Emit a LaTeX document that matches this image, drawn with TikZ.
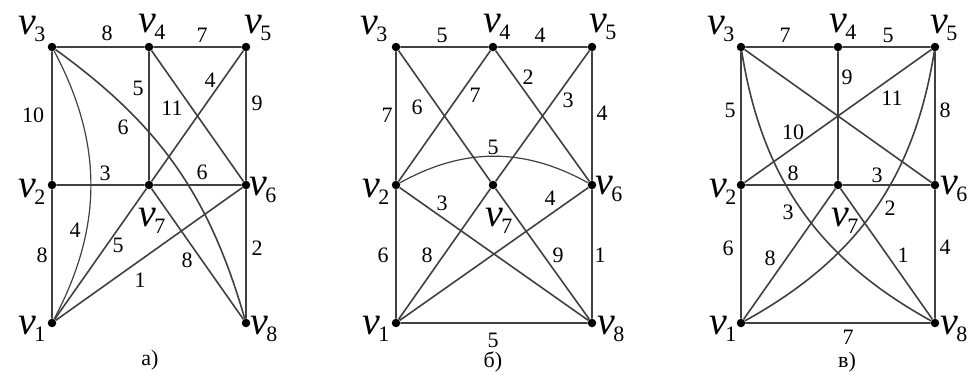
\documentclass[tikz,border=0pt]{standalone}
\usepackage{fontspec}
\setmainfont{Liberation Serif}
\newfontfamily\vfont{Liberation Serif}
\newcommand\vlab[1]{{\vfont\fontsize{40}{40}\selectfont\itshape v}\kern-2pt\raisebox{-7pt}{\vfont\fontsize{22}{22}\selectfont #1}}
\begin{document}
\begin{tikzpicture}[x=1pt,y=1pt,
  dot/.style={circle,fill=black,inner sep=0pt,minimum size=8.5pt},
  edge/.style={draw=black!75,line width=1.6pt},
  lbl/.style={font=\vfont\fontsize{22}{22}\selectfont,inner sep=0pt},
  vtx/.style={inner sep=0pt}]
\useasboundingbox (0,0) rectangle (978,-389);
% ---------- graph a ----------
\node[dot] (a1) at (52,-323) {};
\node[dot] (a2) at (52,-185) {};
\node[dot] (a3) at (52,-47) {};
\node[dot] (a4) at (149,-47) {};
\node[dot] (a5) at (246,-47) {};
\node[dot] (a6) at (246,-185) {};
\node[dot] (a7) at (149,-185) {};
\node[dot] (a8) at (246,-323) {};
\draw[edge] (a3)--(a4) (a4)--(a5) (a3)--(a2) (a2)--(a1) (a5)--(a6) (a6)--(a8)
  (a4)--(a7) (a2)--(a7) (a7)--(a6) (a4)--(a6) (a5)--(a7) (a7)--(a1) (a7)--(a8) (a6)--(a1);
\draw[edge,line width=1.2pt] (a3) to[bend left=28] (a1);
\draw[edge] (a3) to[bend left=19] (a8);
\node[vtx] (la3) at (32,-29) {\vlab{3}};
\node[vtx] (la4) at (152,-27) {\vlab{4}};
\node[vtx] (la5) at (258,-28) {\vlab{5}};
\node[vtx] (la2) at (32,-192) {\vlab{2}};
\node[vtx] (la6) at (263,-190) {\vlab{6}};
\node[vtx] (la7) at (152,-221) {\vlab{7}};
\node[vtx] (la1) at (32,-329) {\vlab{1}};
\node[vtx] (la8) at (264,-329) {\vlab{8}};
\node[lbl] (ea1) at (107,-33) {8};
\node[lbl] (ea2) at (202,-35) {7};
\node[lbl] (ea3) at (33,-115) {10};
\node[lbl] (ea4) at (138,-88) {5};
\node[lbl] (ea5) at (172,-108) {11};
\node[lbl] (ea6) at (210,-80) {4};
\node[lbl] (ea7) at (257,-103) {9};
\node[lbl] (ea8) at (123,-127) {6};
\node[lbl] (ea9) at (105,-173) {3};
\node[lbl] (ea10) at (202,-172) {6};
\node[lbl] (ea11) at (75,-230) {4};
\node[lbl] (ea12) at (118,-245) {5};
\node[lbl] (ea13) at (42,-255) {8};
\node[lbl] (ea14) at (257,-248) {2};
\node[lbl] (ea15) at (187,-260) {8};
\node[lbl] (ea16) at (140,-280) {1};
\node[lbl] (capa) at (150,-360) {а)};
% ---------- graph b ----------
\node[dot] (b1) at (396,-323) {};
\node[dot] (b2) at (396,-185) {};
\node[dot] (b3) at (396,-47) {};
\node[dot] (b4) at (493,-47) {};
\node[dot] (b5) at (592,-47) {};
\node[dot] (b6) at (592,-185) {};
\node[dot] (b7) at (493,-185) {};
\node[dot] (b8) at (592,-323) {};
\draw[edge] (b3)--(b4) (b4)--(b5) (b3)--(b2) (b2)--(b1) (b5)--(b6) (b6)--(b8) (b1)--(b8)
  (b3)--(b7) (b7)--(b8) (b4)--(b2) (b4)--(b6) (b5)--(b7) (b7)--(b1) (b2)--(b8) (b6)--(b1);
\draw[edge,line width=1.2pt] (b2) to[bend left=29] (b6);
\node[vtx] (lb3) at (374,-29) {\vlab{3}};
\node[vtx] (lb4) at (497,-27) {\vlab{4}};
\node[vtx] (lb5) at (603,-27) {\vlab{5}};
\node[vtx] (lb2) at (376,-192) {\vlab{2}};
\node[vtx] (lb6) at (609,-189) {\vlab{6}};
\node[vtx] (lb7) at (499,-221) {\vlab{7}};
\node[vtx] (lb1) at (376,-329) {\vlab{1}};
\node[vtx] (lb8) at (611,-329) {\vlab{8}};
\node[lbl] (eb1) at (442,-35) {5};
\node[lbl] (eb2) at (540,-35) {4};
\node[lbl] (eb3) at (387,-115) {7};
\node[lbl] (eb4) at (417,-107) {6};
\node[lbl] (eb5) at (475,-95) {7};
\node[lbl] (eb6) at (528,-77) {2};
\node[lbl] (eb7) at (568,-100) {3};
\node[lbl] (eb8) at (602,-113) {4};
\node[lbl] (eb9) at (493,-147) {5};
\node[lbl] (eb10) at (442,-203) {3};
\node[lbl] (eb11) at (550,-198) {4};
\node[lbl] (eb12) at (383,-255) {6};
\node[lbl] (eb13) at (427,-255) {8};
\node[lbl] (eb14) at (558,-255) {9};
\node[lbl] (eb15) at (600,-255) {1};
\node[lbl] (eb16) at (493,-340) {5};
\node[lbl] (capb) at (493,-362) {б)};
% ---------- graph c ----------
\node[dot] (c1) at (741,-323) {};
\node[dot] (c2) at (741,-185) {};
\node[dot] (c3) at (741,-47) {};
\node[dot] (c4) at (838,-47) {};
\node[dot] (c5) at (935,-47) {};
\node[dot] (c6) at (935,-185) {};
\node[dot] (c7) at (838,-185) {};
\node[dot] (c8) at (935,-323) {};
\draw[edge] (c3)--(c4) (c4)--(c5) (c3)--(c2) (c2)--(c1) (c5)--(c6) (c6)--(c8) (c1)--(c8)
  (c4)--(c7) (c2)--(c7) (c7)--(c6) (c3)--(c6) (c2)--(c5) (c7)--(c1) (c7)--(c8);
\draw[edge] (c3) to[bend right=26] (c8);
\draw[edge] (c5) to[bend left=26] (c1);
\node[vtx] (lc3) at (721,-29) {\vlab{3}};
\node[vtx] (lc4) at (843,-27) {\vlab{4}};
\node[vtx] (lc5) at (944,-28) {\vlab{5}};
\node[vtx] (lc2) at (723,-192) {\vlab{2}};
\node[vtx] (lc6) at (954,-189) {\vlab{6}};
\node[vtx] (lc7) at (845,-221) {\vlab{7}};
\node[vtx] (lc1) at (723,-329) {\vlab{1}};
\node[vtx] (lc8) at (954,-329) {\vlab{8}};
\node[lbl] (ec1) at (785,-35) {7};
\node[lbl] (ec2) at (888,-35) {5};
\node[lbl] (ec3) at (730,-110) {5};
\node[lbl] (ec4) at (847,-77) {9};
\node[lbl] (ec5) at (892,-98) {11};
\node[lbl] (ec6) at (945,-110) {8};
\node[lbl] (ec7) at (793,-132) {10};
\node[lbl] (ec8) at (793,-173) {8};
\node[lbl] (ec9) at (877,-175) {3};
\node[lbl] (ec10) at (788,-212) {3};
\node[lbl] (ec11) at (890,-208) {2};
\node[lbl] (ec12) at (728,-248) {6};
\node[lbl] (ec13) at (770,-258) {8};
\node[lbl] (ec14) at (903,-255) {1};
\node[lbl] (ec15) at (945,-247) {4};
\node[lbl] (ec16) at (848,-337) {7};
\node[lbl] (capc) at (847,-362) {в)};
\end{tikzpicture}
\end{document}
